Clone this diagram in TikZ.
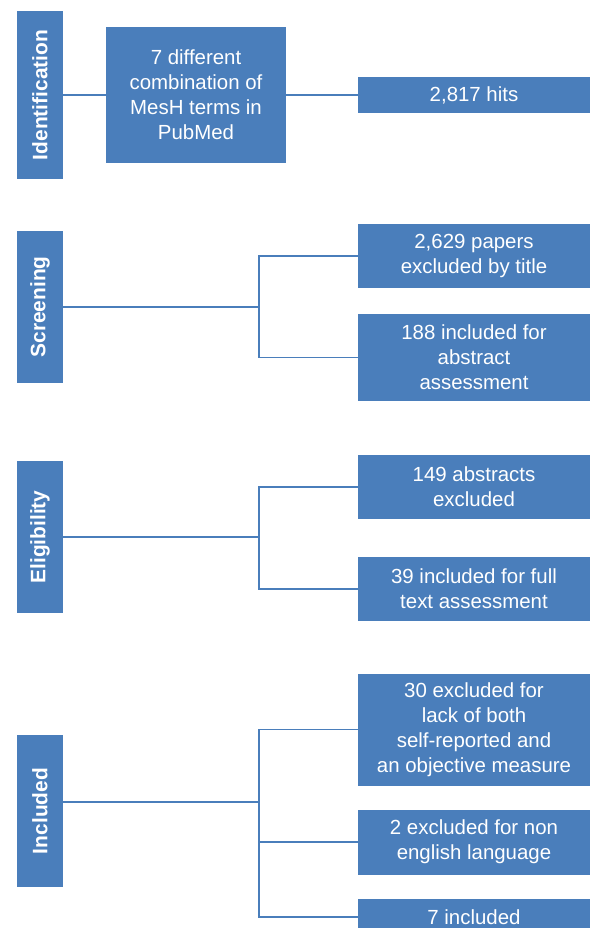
\documentclass[tikz,border=0pt]{standalone}
\usepackage{fontspec}
\setmainfont{Liberation Sans}
\definecolor{boxblue}{HTML}{4A7EBB}
\definecolor{lineblue}{HTML}{4A7EBB}
\begin{document}
\begin{tikzpicture}[x=1bp,y=-1bp,
  box/.style={fill=boxblue, draw=none, text=white, align=center, inner sep=0pt,
    font=\fontsize{20.5}{25}\selectfont},
  phase/.style={fill=boxblue, draw=none, text=white, inner sep=0pt,
    minimum width=46bp, minimum height=152bp},
  phasetext/.style={text=white, rotate=90, font=\fontsize{21}{25}\selectfont\bfseries},
  conn/.style={draw=lineblue, line width=1.3bp}]
\useasboundingbox (0,0) rectangle (590,928);
% phases
\node[phase, minimum height=168bp] (idb) at (40,95) {};
\node[phasetext] at (idb.center) {Identification};
\node[phase] (scb) at (40,307) {};
\node[phasetext] at (scb.center) {Screening};
\node[phase] (elb) at (40,537) {};
\node[phasetext] at (elb.center) {Eligibility};
\node[phase] (inb) at (40,811) {};
\node[phasetext] at (inb.center) {Included};
% identification
\node[box, minimum width=180bp, minimum height=136bp] (mesh) at (196,95) {7 different\\combination of\\MesH terms in\\PubMed};
\node[box, minimum width=232bp, minimum height=36bp] (hits) at (474,95) {2,817 hits};
\draw[conn] (idb.east) -- (mesh.west);
\draw[conn] (mesh.east) -- (hits.west);
% screening
\node[box, minimum width=232bp, minimum height=64bp] (s1) at (474,256) {2,629 papers\\excluded by title};
\node[box, minimum width=232bp, minimum height=87bp] (s2) at (474,357.5) {188 included for\\abstract\\assessment};
\coordinate (sj) at (259,307);
\draw[conn] (scb.east) -- (sj);
\draw[conn] (s1.west) -| (sj);
\draw[conn] (s2.west) -| (sj);
% eligibility
\node[box, minimum width=232bp, minimum height=64bp] (e1) at (474,487) {149 abstracts\\excluded};
\node[box, minimum width=232bp, minimum height=64bp] (e2) at (474,589) {39 included for full\\text assessment};
\coordinate (ej) at (259,537);
\draw[conn] (elb.east) -- (ej);
\draw[conn] (e1.west) -| (ej);
\draw[conn] (e2.west) -| (ej);
% included
\node[box, minimum width=232bp, minimum height=112bp] (i1) at (474,729.5) {30 excluded for\\lack of both\\self-reported and\\an objective measure};
\node[box, minimum width=232bp, minimum height=65bp] (i2) at (474,842) {2 excluded for non\\english language};
\node[box, minimum width=232bp, minimum height=36bp] (i3) at (474,917) {7 included};
\coordinate (ij) at (259,802);
\draw[conn] (inb.east |- ij) -- (ij);
\draw[conn] (i1.west) -| (ij);
\draw[conn] (i2.west) -| (ij);
\draw[conn] (i3.west) -| (ij);
\end{tikzpicture}
\end{document}
